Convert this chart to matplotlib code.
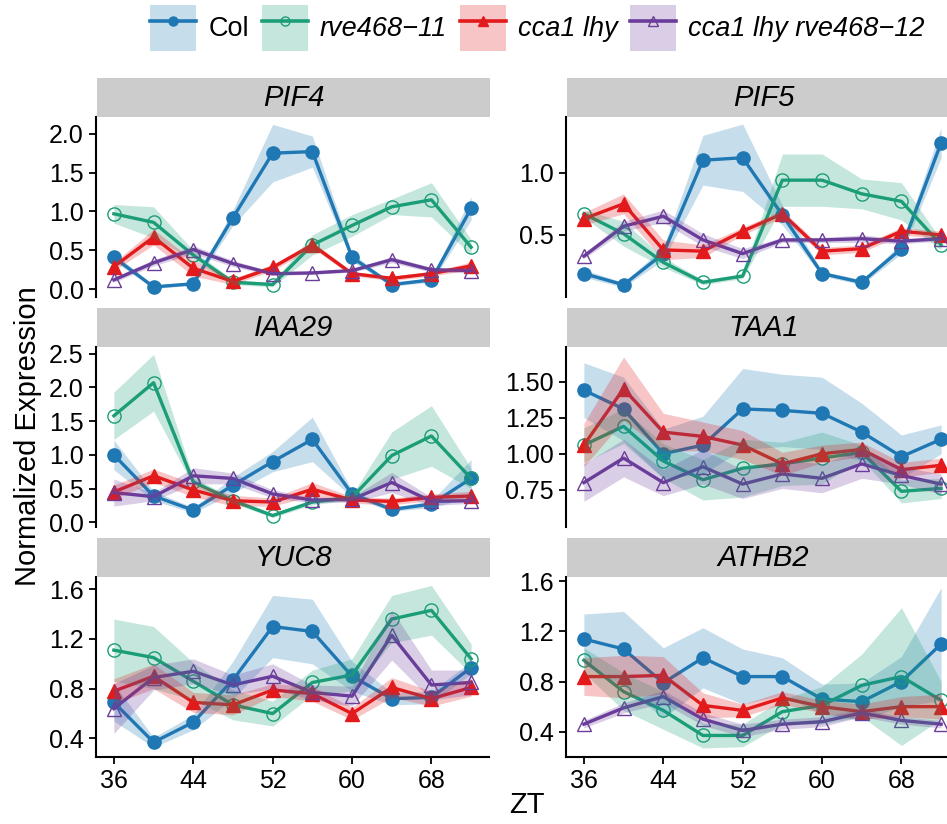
import matplotlib
matplotlib.use("Agg")
import matplotlib.pyplot as plt
from matplotlib.lines import Line2D
from matplotlib.patches import Patch
from matplotlib.legend_handler import HandlerTuple
import numpy as np

plt.rcParams["font.family"] = ["Liberation Sans", "DejaVu Sans"]

# ---- data ----
zt = [36, 40, 44, 48, 52, 56, 60, 64, 68, 72]
genotypes = ["Col", "rve468\u221211", "cca1 lhy", "cca1 lhy rve468\u221212"]
genes = ["PIF4", "PIF5", "IAA29", "TAA1", "YUC8", "ATHB2"]

# rows: Col, rve468-11, cca1 lhy, cca1 lhy rve468-12
pif4_mean = [
    [0.41, 0.03, 0.07, 0.92, 1.75, 1.77, 0.41, 0.06, 0.12, 1.04],
    [0.97, 0.86, 0.44, 0.09, 0.06, 0.57, 0.82, 1.06, 1.15, 0.54],
    [0.29, 0.67, 0.27, 0.10, 0.28, 0.57, 0.20, 0.14, 0.20, 0.30],
    [0.12, 0.34, 0.51, 0.33, 0.20, 0.21, 0.24, 0.38, 0.25, 0.24],
]
pif4_err = [
    [0.05, 0.02, 0.02, 0.10, 0.37, 0.20, 0.05, 0.02, 0.03, 0.15],
    [0.12, 0.20, 0.06, 0.03, 0.03, 0.13, 0.14, 0.10, 0.22, 0.10],
    [0.05, 0.10, 0.10, 0.04, 0.04, 0.04, 0.03, 0.03, 0.03, 0.05],
    [0.03, 0.04, 0.05, 0.04, 0.02, 0.02, 0.02, 0.04, 0.03, 0.03],
]
pif5_mean = [
    [0.19, 0.10, 0.35, 1.10, 1.12, 0.66, 0.19, 0.12, 0.39, 1.24],
    [0.67, 0.51, 0.28, 0.12, 0.17, 0.94, 0.94, 0.83, 0.77, 0.42],
    [0.63, 0.75, 0.38, 0.37, 0.53, 0.67, 0.37, 0.39, 0.53, 0.50],
    [0.33, 0.57, 0.65, 0.46, 0.35, 0.46, 0.46, 0.47, 0.45, 0.47],
]
pif5_err = [
    [0.03, 0.02, 0.05, 0.20, 0.27, 0.08, 0.02, 0.02, 0.04, 0.12],
    [0.03, 0.10, 0.04, 0.02, 0.02, 0.21, 0.21, 0.12, 0.15, 0.04],
    [0.05, 0.08, 0.08, 0.05, 0.03, 0.03, 0.03, 0.03, 0.03, 0.03],
    [0.02, 0.04, 0.05, 0.05, 0.04, 0.02, 0.02, 0.03, 0.02, 0.02],
]
iaa29_mean = [
    [1.00, 0.39, 0.18, 0.55, 0.90, 1.23, 0.42, 0.19, 0.27, 0.65],
    [1.58, 2.07, 0.60, 0.32, 0.10, 0.30, 0.37, 0.99, 1.28, 0.65],
    [0.45, 0.69, 0.48, 0.32, 0.30, 0.49, 0.33, 0.31, 0.37, 0.39],
    [0.44, 0.38, 0.69, 0.65, 0.42, 0.33, 0.34, 0.59, 0.31, 0.32],
]
iaa29_err = [
    [0.22, 0.07, 0.04, 0.12, 0.15, 0.33, 0.05, 0.03, 0.05, 0.28],
    [0.35, 0.42, 0.06, 0.04, 0.03, 0.04, 0.04, 0.35, 0.45, 0.15],
    [0.10, 0.10, 0.10, 0.08, 0.06, 0.10, 0.05, 0.05, 0.05, 0.07],
    [0.20, 0.06, 0.12, 0.08, 0.06, 0.04, 0.04, 0.15, 0.06, 0.04],
]
taa1_mean = [
    [1.44, 1.31, 1.00, 1.06, 1.31, 1.30, 1.28, 1.15, 0.98, 1.10],
    [1.06, 1.19, 0.95, 0.82, 0.90, 0.93, 0.97, 1.01, 0.74, 0.76],
    [1.06, 1.45, 1.15, 1.12, 1.06, 0.93, 1.00, 1.03, 0.89, 0.92],
    [0.80, 0.97, 0.80, 0.91, 0.79, 0.86, 0.83, 0.93, 0.85, 0.79],
]
taa1_err = [
    [0.19, 0.22, 0.17, 0.20, 0.28, 0.25, 0.25, 0.20, 0.15, 0.10],
    [0.12, 0.12, 0.12, 0.14, 0.20, 0.15, 0.18, 0.05, 0.08, 0.07],
    [0.15, 0.22, 0.13, 0.10, 0.10, 0.08, 0.06, 0.05, 0.05, 0.05],
    [0.13, 0.13, 0.09, 0.12, 0.10, 0.10, 0.10, 0.10, 0.06, 0.07],
]
yuc8_mean = [
    [0.69, 0.37, 0.53, 0.87, 1.30, 1.26, 0.90, 0.72, 0.73, 0.97],
    [1.11, 1.05, 0.86, 0.67, 0.60, 0.85, 0.91, 1.36, 1.43, 1.04],
    [0.78, 0.90, 0.69, 0.67, 0.79, 0.76, 0.60, 0.81, 0.72, 0.81],
    [0.64, 0.89, 0.94, 0.83, 0.90, 0.77, 0.74, 1.23, 0.83, 0.85],
]
yuc8_err = [
    [0.15, 0.04, 0.06, 0.15, 0.25, 0.26, 0.12, 0.05, 0.05, 0.05],
    [0.25, 0.25, 0.15, 0.12, 0.10, 0.10, 0.13, 0.19, 0.20, 0.12],
    [0.10, 0.10, 0.08, 0.08, 0.05, 0.06, 0.05, 0.08, 0.06, 0.07],
    [0.20, 0.10, 0.10, 0.08, 0.10, 0.06, 0.08, 0.20, 0.12, 0.10],
]
athb2_mean = [
    [1.14, 1.06, 0.79, 0.99, 0.84, 0.84, 0.66, 0.64, 0.80, 1.10],
    [0.97, 0.72, 0.57, 0.37, 0.37, 0.56, 0.61, 0.77, 0.84, 0.65],
    [0.84, 0.84, 0.85, 0.61, 0.57, 0.67, 0.60, 0.56, 0.60, 0.60],
    [0.46, 0.59, 0.68, 0.50, 0.41, 0.46, 0.48, 0.55, 0.49, 0.46],
]
athb2_err = [
    [0.20, 0.30, 0.28, 0.24, 0.22, 0.15, 0.12, 0.15, 0.20, 0.45],
    [0.10, 0.15, 0.15, 0.10, 0.09, 0.10, 0.15, 0.25, 0.55, 0.15],
    [0.15, 0.17, 0.15, 0.10, 0.05, 0.05, 0.05, 0.06, 0.08, 0.10],
    [0.03, 0.04, 0.05, 0.05, 0.05, 0.04, 0.04, 0.03, 0.03, 0.03],
]

means = [pif4_mean, pif5_mean, iaa29_mean, taa1_mean, yuc8_mean, athb2_mean]
errs = [pif4_err, pif5_err, iaa29_err, taa1_err, yuc8_err, athb2_err]
yticks = [
    [0.0, 0.5, 1.0, 1.5, 2.0],
    [0.5, 1.0],
    [0.0, 0.5, 1.0, 1.5, 2.0, 2.5],
    [0.75, 1.00, 1.25, 1.50],
    [0.4, 0.8, 1.2, 1.6],
    [0.4, 0.8, 1.2, 1.6],
]
ylims = [(-0.10, 2.215), (0.002, 1.447), (-0.07, 2.60),
         (0.493, 1.739), (0.251, 1.698), (0.198, 1.635)]
ydec = [1, 1, 1, 2, 1, 1]

# ---- style ----
colors = ["#1f78b4", "#1b9e77", "#e31a1c", "#6a3d9a"]
markers = ["o", "o", "^", "^"]
filled = [True, False, True, False]

W, H = 947, 824
fig = plt.figure(figsize=(W / 100, H / 100), dpi=100)

col_x = [96, 566]
col_w = 393
row_top = [117, 347, 577]
plot_h = 180
strip_h = 39

for i, gene in enumerate(genes):
    r, c = divmod(i, 2)
    x0 = col_x[c] / W
    ax = fig.add_axes([x0, 1 - (row_top[r] + plot_h) / H, col_w / W, plot_h / H])
    sax = fig.add_axes([x0 + 1 / W, 1 - row_top[r] / H, col_w / W, strip_h / H])
    sax.set_facecolor("#cccccc")
    sax.set_xticks([]); sax.set_yticks([])
    for s in sax.spines.values():
        s.set_visible(False)
    sax.text(0.5, 0.5, gene, transform=sax.transAxes, ha="center", va="center",
             fontsize=21, style="italic")

    for k in range(4):
        m = np.array(means[i][k])
        mfc = colors[k] if filled[k] else "none"
        ax.plot(zt, m, color=colors[k], lw=2.4, marker=markers[k], ms=9.5,
                mfc=mfc, mec=colors[k], mew=1.0, zorder=2)
    # ribbons sit on top of lines, like the original
    for k in range(4):
        m = np.array(means[i][k])
        e = np.array(errs[i][k])
        ax.fill_between(zt, m - e, m + e, color=colors[k], alpha=0.25, lw=0, zorder=3)

    ax.set_xlim(34.2, 73.8)
    ax.set_ylim(*ylims[i])
    ax.set_yticks(yticks[i])
    ax.set_yticklabels([f"{v:.{ydec[i]}f}" for v in yticks[i]])
    ax.set_xticks([36, 44, 52, 60, 68])
    for s in ["top", "right"]:
        ax.spines[s].set_visible(False)
    ax.spines["left"].set_linewidth(1.5)
    ax.spines["bottom"].set_linewidth(1.5)
    ax.tick_params(labelsize=18, width=1.3, length=5, pad=4, colors="black")
    if r < 2:
        ax.spines["bottom"].set_visible(False)
        ax.tick_params(axis="x", bottom=False, labelbottom=False)

fig.text(527 / W, 1 - 805 / H, "ZT", ha="center", va="center", fontsize=21)
fig.text(28 / W, 1 - 436 / H, "Normalized Expression", ha="center", va="center",
         rotation=90, fontsize=21)

handles = []
for k in range(4):
    p = Patch(facecolor=colors[k], alpha=0.25, edgecolor="none")
    ln = Line2D([], [], color=colors[k], lw=2.6, marker=markers[k], ms=6.5,
                mfc=colors[k] if filled[k] else "none", mec=colors[k], mew=1.0)
    handles.append((p, ln))

leg = fig.legend(handles, genotypes, loc="center", bbox_to_anchor=(537.5 / W, 1 - 28 / H),
                 ncol=4, frameon=False, fontsize=19.5, handlelength=1.7, handleheight=2.25,
                 handletextpad=0.45, columnspacing=0.46, borderpad=0,
                 handler_map={tuple: HandlerTuple(ndivide=1, pad=0)})
for t in leg.get_texts()[1:]:
    t.set_style("italic")

fig.savefig("out.png", dpi=100)
